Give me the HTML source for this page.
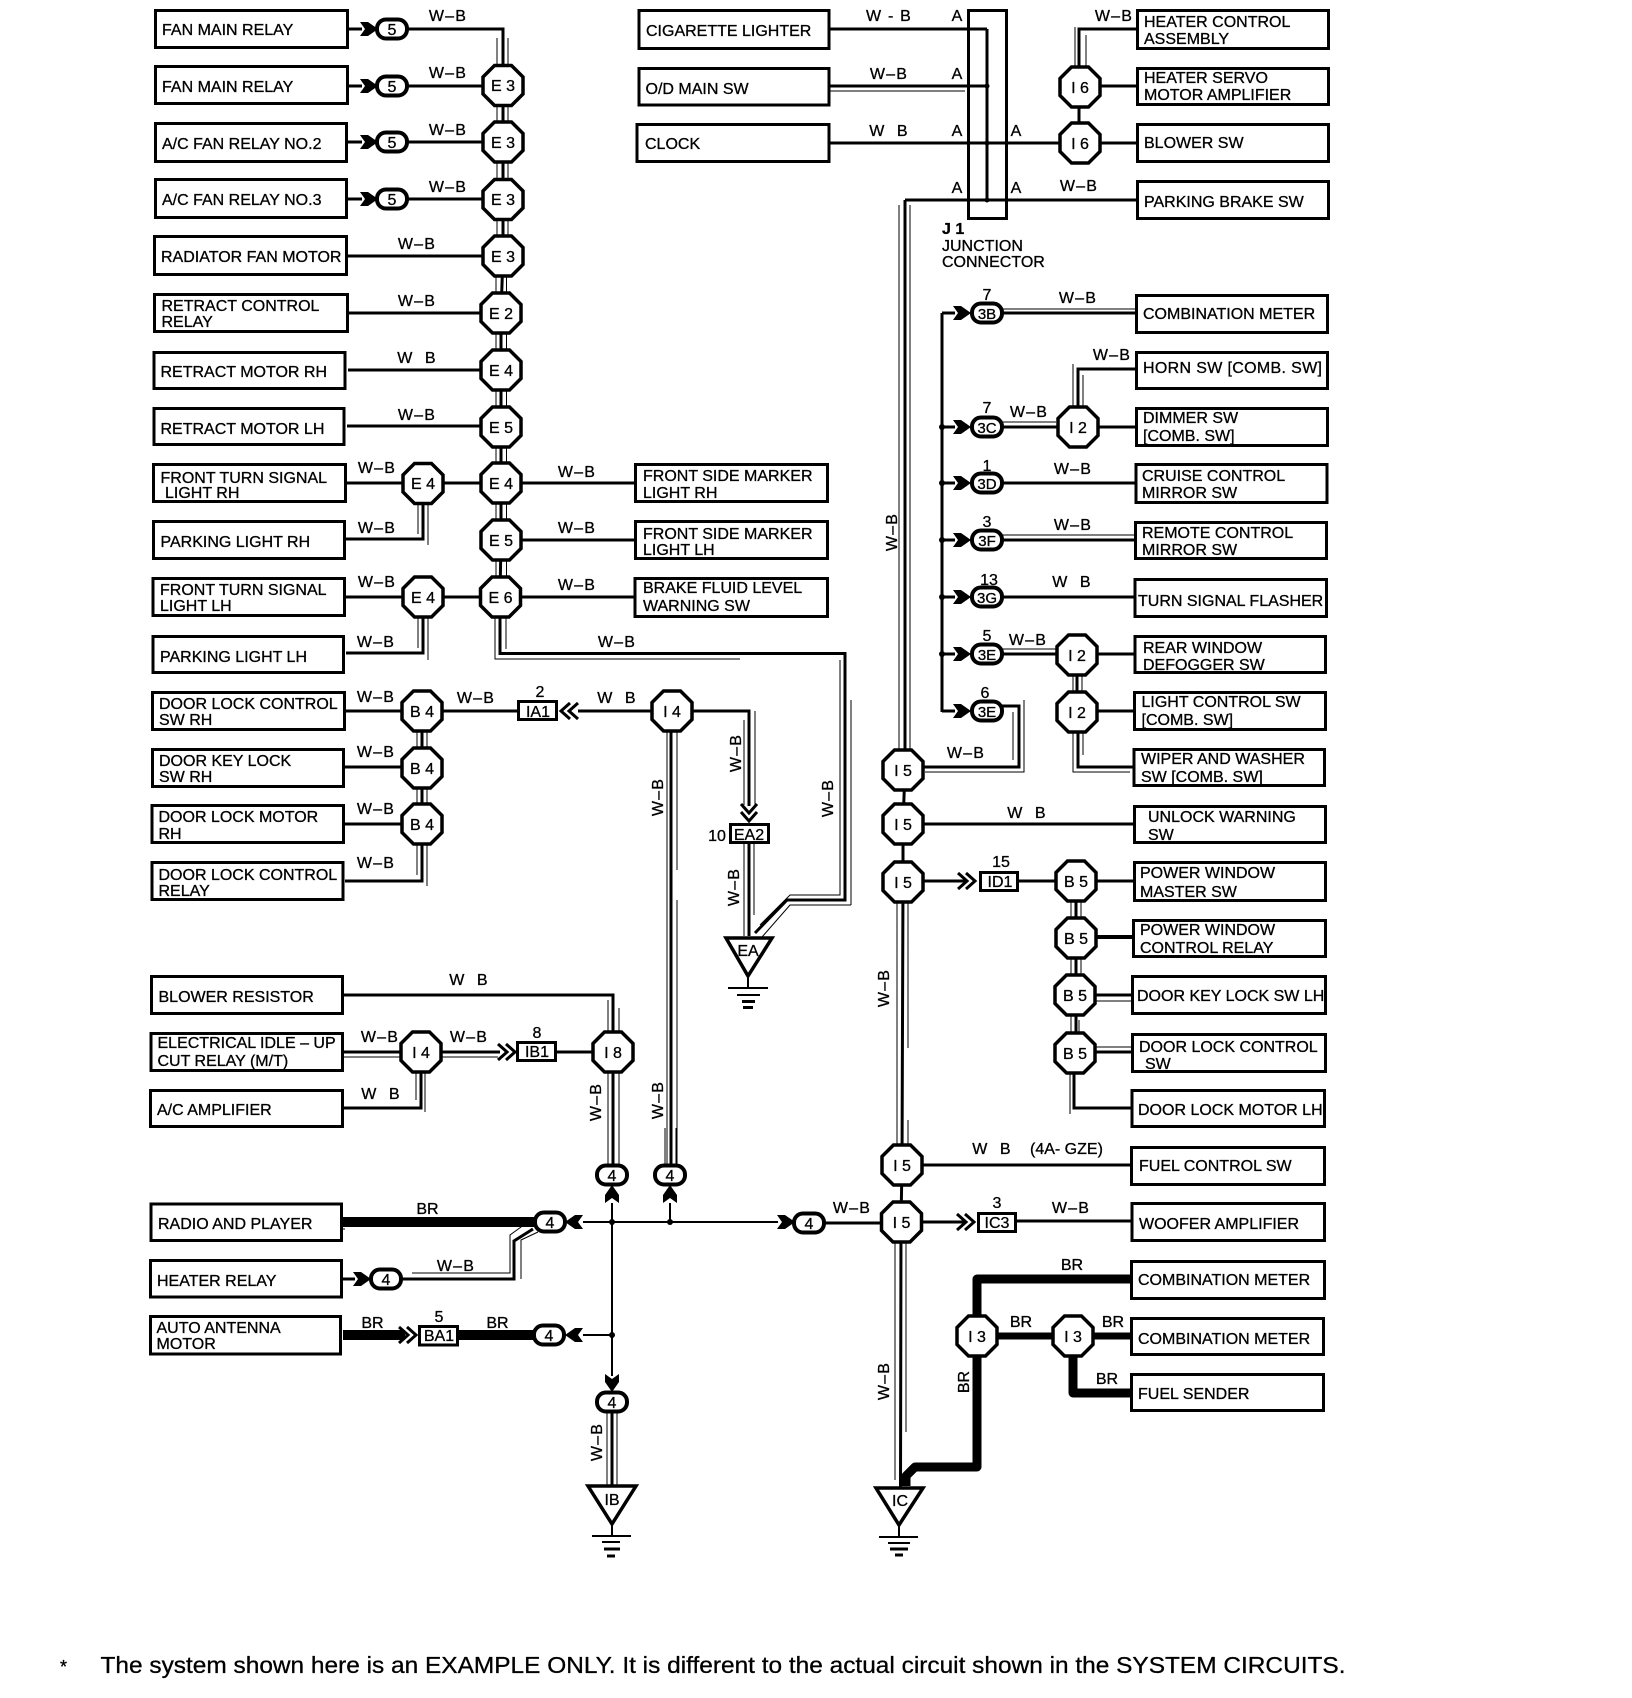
<!DOCTYPE html>
<html><head><meta charset="utf-8"><title>Wiring diagram</title>
<style>
html,body{margin:0;padding:0;background:#fff}
svg{display:block}
text{font-family:"Liberation Sans",sans-serif;font-size:16px;fill:#000;stroke:#000;stroke-width:.3}
.c{text-anchor:middle}
.l{text-anchor:middle;letter-spacing:1.2px}
.s{font-size:15px}
.box rect{fill:#fff;stroke:#000;stroke-width:3}
.w{fill:none;stroke:#000;stroke-width:3}
.n{fill:none;stroke:#000;stroke-width:2}
.t{fill:none;stroke:#000;stroke-width:1}
.h{fill:none;stroke:#000;stroke-width:9;stroke-linejoin:round}
</style></head><body>
<svg width="1632" height="1698" viewBox="0 0 1632 1698" xmlns="http://www.w3.org/2000/svg">
<defs>
<polygon id="o" points="-8.5,-20 8.5,-20 20,-8.5 20,8.5 8.5,20 -8.5,20 -20,8.5 -20,-8.5" fill="#fff" stroke="#000" stroke-width="3.5"/>
<rect id="p" x="-15" y="-9.5" width="30" height="19" rx="9" fill="#fff" stroke="#000" stroke-width="4"/>
<path id="a" d="M0-7H8L18 0 8 7H0L5 0Z" fill="#000"/>
<g id="v" fill="none" stroke="#000" stroke-width="3"><path d="M0-8 9 0 0 8"/><path d="M8-8 17 0 8 8"/></g>
</defs>

<!-- wires -->
<g class="w">
<path d="M348 29H362M348 86H362M348 142H362M348 199H362"/>
<path d="M405 29H503V85L503 256 501 313V483L501 540 500 597V653.500H845V900H787L755 933"/>
<path d="M405 86H482M405 142H482M405 199H482M348 256H482M348 313H481M348 370H481M347 426H481M347 483H403M443 483H521M521 483H634M346 539H423V503M521 540H634M346 597H403M443 597H634M346 653H423V617"/>
<path d="M346 711H402M345 767H402M345 824H402M345 881H422V690M443 711H520"/>
<path d="M578 711H652M692 711H749V806M749 844V936M671 732V1165"/>
<path d="M344 995H613V1165M344 1052H400M441 1052H500M557 1052H593M344 1108H421V1072"/>
<path d="M830 29H987M830 86H987M830 143H1060M987 29V200M1100 86H1136M1100 143H1136M1136 29H1079V143M905 200H1136M905 200V770L903 824V882L902 1165 901 1222 900.500 1487"/>
<path d="M1002 313H1135M942 313V712M942 313H955M942 427H955M942 483H955M942 540H955M942 597H955M942 654H955M942 711H955"/>
<path d="M1135 369H1078V407M1002 427H1057M1099 427H1135M1002 483H1135M1002 540H1135M1002 597H1134M1002 654H1056M1098 654H1134M1097 711H1133M1077 675V712M1078 732V767H1133M1002 706H1019V767H924"/>
<path d="M923 824H1133M923 881H965M1019 881H1056M1097 881H1133M1076 881V1053M1096 995H1131M1096 1052H1131M1074 1074V1108H1131M923 1165H1130M923 1222H965M1017 1221H1131M825 1223H880"/>
<path d="M343 1279H355M402 1279H514V1241L533 1229"/>
</g>
<path d="M1097 937H1132" class="w" style="stroke-width:4"/>
<g class="n">
<path d="M583 1222H778M583 1335H612M612 1203V1376M670 1203V1222"/>
</g>
<g class="t">
<path d="M497 38V256M508 38V275M496 275V596M506.500 275V596M495 617V659H740M506 617V649M840 660V895H790L760 925M851 700V905M851 905H790L762 937"/>
<path d="M418 503V534M428 503V545M418 617V648M428 617V660M417 731V875M427 731V886"/>
<path d="M744 720V805M755 711V805M744 844V936M754 844V915M667 732V1165M677 732V870M677 900V1165"/>
<path d="M608 1000V1165M619 1008V1165M608 1073V1165M425 1073V1112M416 1073V1100M344 1057H400M441 1057H498"/>
<path d="M830 91H965M1075 27V66M1086 35V66M899 205V750M910 205V750M897 890V1145M908 890V1048M908 1120V1145M895 1243V1480M906 1243V1432"/>
<path d="M1002 309H1135M1073 364V406M1083 375V406M1002 422H1056M1002 535H1135M1073 675V712M1082 675V712M1073 732V772H1130M1083 732V755M1013 712V760M1024 700V772H925M1002 649H1056"/>
<path d="M1071 900V1034M1081 900V975M1070 1073V1114M1096 1001H1131M1096 1047H1131M1079 1020V1033"/>
<path d="M343 1229H345M412 1273H510V1235L528 1222M521 1279V1240L538 1232"/>
<path d="M607 1413V1485M617 1413V1485M665 1128V1165M676 1128V1165"/>
</g>
<path d="M343 1222H536" fill="none" stroke="#000" stroke-width="10"/>
<path d="M612 1413V1485" class="w"/>
<g class="h">
<path d="M343 1335H405M459 1335H535" style="stroke-width:10"/>
<path d="M1130 1279H977V1315"/>
<path d="M998 1336H1053M1094 1336H1130" style="stroke-width:7"/>
<path d="M1073 1355V1393H1130"/>
<path d="M977 1355V1467H915L906 1476V1486"/>
</g>

<!-- arrows -->
<use href="#a" transform="translate(360,29)"/><use href="#a" transform="translate(360,86)"/><use href="#a" transform="translate(360,142)"/><use href="#a" transform="translate(360,199)"/>
<use href="#a" transform="translate(953,313)"/><use href="#a" transform="translate(953,427)"/><use href="#a" transform="translate(953,483)"/><use href="#a" transform="translate(953,540)"/><use href="#a" transform="translate(953,597)"/><use href="#a" transform="translate(953,654)"/><use href="#a" transform="translate(953,711)"/>
<use href="#a" transform="translate(353,1279)"/><use href="#a" transform="translate(777,1222)"/>
<use href="#a" transform="translate(583,1222) scale(-1,1)"/><use href="#a" transform="translate(583,1335) scale(-1,1)"/>
<use href="#a" transform="translate(612,1203) rotate(-90)"/><use href="#a" transform="translate(670,1203) rotate(-90)"/>
<use href="#a" transform="translate(612,1374) rotate(90)"/>
<use href="#v" transform="translate(498,1052)"/><use href="#v" transform="translate(958,881)"/><use href="#v" transform="translate(957,1222)"/><use href="#v" transform="translate(399,1335)"/>
<use href="#v" transform="translate(578,711) scale(-1,1)"/><use href="#v" transform="translate(749,804) rotate(90)"/>

<!-- dots -->
<g fill="#000">
<circle cx="987" cy="86" r="2.500"/><circle cx="987" cy="143" r="2.500"/><circle cx="987" cy="200" r="2.500"/>
<circle cx="942" cy="427" r="3"/><circle cx="942" cy="483" r="3"/><circle cx="942" cy="540" r="3"/><circle cx="942" cy="597" r="3"/><circle cx="942" cy="654" r="3"/>
<circle cx="612" cy="1222" r="3"/><circle cx="670" cy="1222" r="3"/><circle cx="612" cy="1335" r="3"/>
</g>

<!-- boxes -->
<g class="box">
<rect x="155.500" y="10.500" width="192" height="37"/>
<rect x="155.500" y="66.500" width="192" height="37"/>
<rect x="155.500" y="123.500" width="191" height="38"/>
<rect x="155.500" y="179.500" width="191" height="38"/>
<rect x="154.500" y="236.500" width="192" height="38"/>
<rect x="154.500" y="294.500" width="193" height="37"/>
<rect x="154" y="352.500" width="191" height="36"/>
<rect x="154" y="408.500" width="190" height="36"/>
<rect x="153.500" y="464.500" width="192" height="37"/>
<rect x="153.500" y="521.500" width="191" height="37"/>
<rect x="153" y="578.500" width="191.500" height="37"/>
<rect x="153" y="636.500" width="190.500" height="36"/>
<rect x="152.500" y="692.500" width="192" height="37"/>
<rect x="152.500" y="749.500" width="191" height="37"/>
<rect x="152" y="805.500" width="191.500" height="37"/>
<rect x="152" y="862.500" width="191" height="37"/>
<rect x="151.500" y="976.500" width="191" height="37"/>
<rect x="151" y="1033.500" width="191.500" height="37"/>
<rect x="150.500" y="1090.500" width="192" height="36"/>
<rect x="151" y="1204" width="190.500" height="36.500"/>
<rect x="150.500" y="1260.500" width="191" height="36.500"/>
<rect x="150.500" y="1316.500" width="190" height="37.500"/>
<rect x="639" y="10.500" width="190" height="38"/>
<rect x="639" y="68.500" width="190" height="36.500"/>
<rect x="637" y="124.500" width="192" height="37"/>
<rect x="635.500" y="464.500" width="192" height="37"/>
<rect x="635.500" y="521.500" width="192" height="37"/>
<rect x="635" y="578.500" width="192.500" height="38"/>
<rect x="1137.500" y="10.500" width="191" height="38"/>
<rect x="1137.500" y="68.500" width="191" height="36"/>
<rect x="1137.500" y="124.500" width="191" height="37"/>
<rect x="1137.500" y="181.500" width="191" height="37"/>
<rect x="1136.500" y="295.500" width="191" height="37"/>
<rect x="1136.500" y="352.500" width="191" height="36"/>
<rect x="1136.500" y="408.500" width="191" height="37"/>
<rect x="1136" y="464.500" width="191" height="38"/>
<rect x="1135.500" y="522.500" width="191" height="36"/>
<rect x="1135" y="579.500" width="191.500" height="37"/>
<rect x="1135" y="636.500" width="190.500" height="36"/>
<rect x="1134.500" y="692.500" width="191" height="37"/>
<rect x="1134" y="749.500" width="190.500" height="36"/>
<rect x="1134.500" y="806.500" width="191" height="36"/>
<rect x="1134.500" y="862.500" width="191" height="38"/>
<rect x="1133.500" y="920.500" width="192" height="36"/>
<rect x="1132.500" y="976.500" width="193" height="37"/>
<rect x="1132.500" y="1034.500" width="193" height="37"/>
<rect x="1132" y="1090.500" width="192.500" height="36"/>
<rect x="1131.500" y="1147.500" width="193" height="37"/>
<rect x="1132" y="1203.500" width="192.500" height="37"/>
<rect x="1131.500" y="1261.500" width="193" height="37"/>
<rect x="1131.500" y="1318.500" width="192" height="36"/>
<rect x="1131.500" y="1374.500" width="192" height="36"/>
<rect x="518.500" y="701.500" width="38" height="18"/>
<rect x="730.500" y="824.500" width="38" height="18"/>
<rect x="517.500" y="1042.500" width="38" height="18"/>
<rect x="419.500" y="1326.500" width="38" height="18.500"/>
<rect x="980.500" y="872.500" width="37" height="18"/>
<rect x="978.500" y="1213.500" width="37" height="18"/>
</g>
<rect x="968.500" y="10.500" width="38" height="208" fill="none" stroke="#000" stroke-width="3"/>

<!-- octagons -->
<use href="#o" x="503" y="85.500"/><use href="#o" x="503" y="142"/><use href="#o" x="503" y="199.500"/><use href="#o" x="503" y="256"/>
<use href="#o" x="501" y="313"/><use href="#o" x="501" y="370"/><use href="#o" x="501" y="427"/><use href="#o" x="501" y="483"/><use href="#o" x="501" y="540"/><use href="#o" x="500.500" y="597"/>
<use href="#o" x="423" y="483.500"/><use href="#o" x="423" y="597"/>
<use href="#o" x="422" y="711"/><use href="#o" x="422" y="768"/><use href="#o" x="422" y="824"/>
<use href="#o" x="672" y="711"/><use href="#o" x="421" y="1052"/><use href="#o" x="613" y="1052"/>
<use href="#o" x="1080" y="87"/><use href="#o" x="1080" y="143"/>
<use href="#o" x="1078" y="427"/><use href="#o" x="1077" y="655"/><use href="#o" x="1077" y="712"/>
<use href="#o" x="903" y="770"/><use href="#o" x="903" y="824"/><use href="#o" x="903" y="882"/><use href="#o" x="902" y="1165"/><use href="#o" x="901.500" y="1222"/>
<use href="#o" x="1076" y="881"/><use href="#o" x="1076" y="938"/><use href="#o" x="1075" y="995"/><use href="#o" x="1075" y="1053"/>
<use href="#o" x="977" y="1336"/><use href="#o" x="1073" y="1336"/>

<!-- pills -->
<use href="#p" x="392" y="29"/><use href="#p" x="392" y="86"/><use href="#p" x="392" y="142"/><use href="#p" x="392" y="199"/>
<use href="#p" x="987" y="313"/><use href="#p" x="987" y="427"/><use href="#p" x="987" y="483"/><use href="#p" x="987" y="540"/><use href="#p" x="987" y="597"/><use href="#p" x="987" y="654"/><use href="#p" x="987" y="711"/>
<use href="#p" x="612" y="1175"/><use href="#p" x="670" y="1175"/><use href="#p" x="550" y="1222"/><use href="#p" x="809" y="1223"/><use href="#p" x="386" y="1279"/><use href="#p" x="549" y="1335"/><use href="#p" x="612" y="1402"/>

<!-- triangles + ground -->
<g fill="#fff" stroke="#000" stroke-width="3.500" stroke-linejoin="miter">
<polygon points="726,938 772,938 748,976"/>
<polygon points="588,1486 636,1486 612,1524"/>
<polygon points="876,1488 923,1488 899,1525"/>
</g>
<g class="n">
<path d="M748 978V988M728 988H768M612 1526V1536M592 1536H631M899 1526V1537M879 1537H918"/>
<path d="M737 995H760M602 1542H620M888 1543H910"/>
</g>
<g class="w">
<path d="M742 1001.500H755M743 1007.500H753M604 1549H620M607 1556H615M890 1549H908M895 1555H903"/>
</g>

<!-- box labels -->
<text x="162" y="35">FAN MAIN RELAY</text>
<text x="162" y="92">FAN MAIN RELAY</text>
<text x="162" y="149">A/C FAN RELAY NO.2</text>
<text x="162" y="205">A/C FAN RELAY NO.3</text>
<text x="161" y="262">RADIATOR FAN MOTOR</text>
<text x="161.500" y="311">RETRACT CONTROL</text><text x="161.500" y="327">RELAY</text>
<text x="160.500" y="377">RETRACT MOTOR RH</text>
<text x="160.500" y="434">RETRACT MOTOR LH</text>
<text x="160.500" y="483">FRONT TURN SIGNAL</text><text x="165" y="498">LIGHT RH</text>
<text x="160.500" y="547">PARKING LIGHT RH</text>
<text x="160" y="595">FRONT TURN SIGNAL</text><text x="160" y="611">LIGHT LH</text>
<text x="160" y="662">PARKING LIGHT LH</text>
<text x="159" y="709">DOOR LOCK CONTROL</text><text x="159" y="725">SW RH</text>
<text x="159" y="766">DOOR KEY LOCK</text><text x="159" y="782">SW RH</text>
<text x="158.500" y="822">DOOR LOCK MOTOR</text><text x="158.500" y="839">RH</text>
<text x="158.500" y="880">DOOR LOCK CONTROL</text><text x="158.500" y="896">RELAY</text>
<text x="158.500" y="1002">BLOWER RESISTOR</text>
<text x="157.500" y="1048">ELECTRICAL IDLE – UP</text><text x="157.500" y="1066">CUT RELAY (M/T)</text>
<text x="157" y="1115">A/C AMPLIFIER</text>
<text x="158" y="1229">RADIO AND PLAYER</text>
<text x="157" y="1286">HEATER RELAY</text>
<text x="156.500" y="1333">AUTO ANTENNA</text><text x="156.500" y="1349">MOTOR</text>

<text x="646" y="36">CIGARETTE LIGHTER</text>
<text x="645.500" y="94">O/D MAIN SW</text>
<text x="645" y="149">CLOCK</text>
<text x="643" y="481">FRONT SIDE MARKER</text><text x="643" y="498">LIGHT RH</text>
<text x="643" y="539">FRONT SIDE MARKER</text><text x="643" y="555">LIGHT LH</text>
<text x="643" y="593">BRAKE FLUID LEVEL</text><text x="643" y="611">WARNING SW</text>

<text x="1144" y="27">HEATER CONTROL</text><text x="1144" y="44">ASSEMBLY</text>
<text x="1144" y="83">HEATER SERVO</text><text x="1144" y="100">MOTOR AMPLIFIER</text>
<text x="1144" y="148">BLOWER SW</text>
<text x="1144" y="207">PARKING BRAKE SW</text>
<text x="1143" y="319">COMBINATION METER</text>
<text x="1143" y="373" textLength="179">HORN SW [COMB. SW]</text>
<text x="1143" y="423">DIMMER SW</text><text x="1143" y="441">[COMB. SW]</text>
<text x="1142" y="481">CRUISE CONTROL</text><text x="1142" y="498">MIRROR SW</text>
<text x="1142" y="538">REMOTE CONTROL</text><text x="1142" y="555">MIRROR SW</text>
<text x="1138" y="606">TURN SIGNAL FLASHER</text>
<text x="1143" y="653">REAR WINDOW</text><text x="1143" y="670">DEFOGGER SW</text>
<text x="1141.500" y="707">LIGHT CONTROL SW</text><text x="1141.500" y="725">[COMB. SW]</text>
<text x="1141" y="764">WIPER AND WASHER</text><text x="1141" y="782">SW [COMB. SW]</text>
<text x="1148" y="822">UNLOCK WARNING</text><text x="1148" y="840">SW</text>
<text x="1140" y="878">POWER WINDOW</text><text x="1140" y="897">MASTER SW</text>
<text x="1140" y="935">POWER WINDOW</text><text x="1140" y="953">CONTROL RELAY</text>
<text x="1137" y="1001">DOOR KEY LOCK SW LH</text>
<text x="1139" y="1052">DOOR LOCK CONTROL</text><text x="1145" y="1069">SW</text>
<text x="1138" y="1115">DOOR LOCK MOTOR LH</text>
<text x="1139" y="1171">FUEL CONTROL SW</text>
<text x="1139" y="1229">WOOFER AMPLIFIER</text>
<text x="1138" y="1285">COMBINATION METER</text>
<text x="1138" y="1344">COMBINATION METER</text>
<text x="1138" y="1399">FUEL SENDER</text>

<!-- octagon labels -->
<g class="c">
<text class="c" x="503" y="91">E 3</text><text class="c" x="503" y="148">E 3</text><text class="c" x="503" y="205">E 3</text><text class="c" x="503" y="262">E 3</text>
<text class="c" x="501" y="319">E 2</text><text class="c" x="501" y="376">E 4</text><text class="c" x="501" y="433">E 5</text><text class="c" x="501" y="489">E 4</text><text class="c" x="501" y="546">E 5</text><text class="c" x="500.500" y="603">E 6</text>
<text class="c" x="423" y="489">E 4</text><text class="c" x="423" y="603">E 4</text>
<text class="c" x="422" y="717">B 4</text><text class="c" x="422" y="774">B 4</text><text class="c" x="422" y="830">B 4</text>
<text class="c" x="672" y="717">I 4</text><text class="c" x="421" y="1058">I 4</text><text class="c" x="613" y="1058">I 8</text>
<text class="c" x="1080" y="93">I 6</text><text class="c" x="1080" y="149">I 6</text>
<text class="c" x="1078" y="433">I 2</text><text class="c" x="1077" y="661">I 2</text><text class="c" x="1077" y="718">I 2</text>
<text class="c" x="903" y="776">I 5</text><text class="c" x="903" y="830">I 5</text><text class="c" x="903" y="888">I 5</text><text class="c" x="902" y="1171">I 5</text><text class="c" x="901.500" y="1228">I 5</text>
<text class="c" x="1076" y="887">B 5</text><text class="c" x="1076" y="944">B 5</text><text class="c" x="1075" y="1001">B 5</text><text class="c" x="1075" y="1059">B 5</text>
<text class="c" x="977" y="1342">I 3</text><text class="c" x="1073" y="1342">I 3</text>
<!-- pill labels -->
<text class="c" x="392" y="35">5</text><text class="c" x="392" y="92">5</text><text class="c" x="392" y="148">5</text><text class="c" x="392" y="205">5</text>
<text class="c s" x="987" y="319">3B</text><text class="c s" x="987" y="433">3C</text><text class="c s" x="987" y="489">3D</text><text class="c s" x="987" y="546">3F</text><text class="c s" x="987" y="603">3G</text><text class="c s" x="987" y="660">3E</text><text class="c s" x="987" y="717">3E</text>
<text class="c" x="612" y="1181">4</text><text class="c" x="670" y="1181">4</text><text class="c" x="550" y="1228">4</text><text class="c" x="809" y="1229">4</text><text class="c" x="386" y="1285">4</text><text class="c" x="549" y="1341">4</text><text class="c" x="612" y="1408">4</text>
<!-- connector labels -->
<text class="c" x="538" y="717">IA1</text><text class="c" x="540" y="697">2</text>
<text class="c" x="749" y="840">EA2</text><text class="c" x="717" y="841">10</text>
<text class="c" x="537" y="1057">IB1</text><text class="c" x="537" y="1038">8</text>
<text class="c" x="439" y="1341">BA1</text><text class="c" x="439" y="1322">5</text>
<text class="c" x="1000" y="887">ID1</text><text class="c" x="1001" y="867">15</text>
<text class="c" x="997" y="1228">IC3</text><text class="c" x="997" y="1208">3</text>
<text class="c" x="748" y="956">EA</text><text class="c" x="612" y="1505">IB</text><text class="c" x="900" y="1506">IC</text>
<!-- pill numbers -->
<text class="c" x="987" y="300">7</text><text class="c" x="987" y="413">7</text><text class="c" x="987" y="471">1</text><text class="c" x="987" y="527">3</text><text class="c" x="989" y="585">13</text><text class="c" x="987" y="641">5</text><text class="c" x="985" y="698">6</text>
<!-- A labels -->
<text class="c" x="957" y="21">A</text><text class="c" x="957" y="79">A</text><text class="c" x="957" y="136">A</text><text class="c" x="957" y="193">A</text><text class="c" x="1016" y="136">A</text><text class="c" x="1016" y="193">A</text>
<!-- BR -->
<text class="c" x="427.500" y="1214">BR</text><text class="c" x="372.500" y="1328">BR</text><text class="c" x="497.500" y="1328">BR</text>
<text class="c" x="1072" y="1270">BR</text><text class="c" x="1021" y="1327">BR</text><text class="c" x="1113" y="1327">BR</text><text class="c" x="1107" y="1384">BR</text>
</g>
<text x="942" y="234" style="font-weight:bold">J 1</text>
<text x="942" y="251">JUNCTION</text>
<text x="942" y="267">CONNECTOR</text>

<!-- W-B labels -->
<text class="l" x="448" y="21">W–B</text><text class="l" x="448" y="78">W–B</text><text class="l" x="448" y="135">W–B</text><text class="l" x="448" y="192">W–B</text>
<text class="l" x="417" y="249">W–B</text><text class="l" x="417" y="306">W–B</text><text class="l" x="417" y="363">W&#160;&#160;B</text><text class="l" x="417" y="420">W–B</text>
<text class="l" x="377" y="473">W–B</text><text class="l" x="377" y="533">W–B</text><text class="l" x="377" y="587">W–B</text><text class="l" x="376" y="647">W–B</text>
<text class="l" x="376" y="702">W–B</text><text class="l" x="376" y="757">W–B</text><text class="l" x="376" y="814">W–B</text><text class="l" x="376" y="868">W–B</text>
<text class="l" x="476" y="703">W–B</text><text class="l" x="617" y="703">W&#160;&#160;B</text>
<text class="l" x="577" y="477">W–B</text><text class="l" x="577" y="533">W–B</text><text class="l" x="577" y="590">W–B</text><text class="l" x="617" y="647">W–B</text>
<text class="l" x="469" y="985">W&#160;&#160;B</text><text class="l" x="380" y="1042">W–B</text><text class="l" x="469" y="1042">W–B</text><text class="l" x="381" y="1099">W&#160;&#160;B</text>
<text class="l" x="456" y="1271">W–B</text><text class="l" x="852" y="1213">W–B</text>
<text class="l" x="889" y="21">W - B</text><text class="l" x="889" y="79">W–B</text><text class="l" x="889" y="136">W&#160;&#160;B</text>
<text class="l" x="1079" y="191">W–B</text><text class="l" x="1114" y="21">W–B</text>
<text class="l" x="1078" y="303">W–B</text><text class="l" x="1112" y="360">W–B</text><text class="l" x="1029" y="417">W–B</text><text class="l" x="1073" y="474">W–B</text><text class="l" x="1073" y="530">W–B</text><text class="l" x="1072" y="587">W&#160;&#160;B</text><text class="l" x="1028" y="645">W–B</text><text class="l" x="966" y="758">W–B</text>
<text class="l" x="1027" y="818">W&#160;&#160;B</text><text class="l" x="992" y="1154">W&#160;&#160;B</text><text x="1030" y="1154">(4A- GZE)</text>
<text class="l" x="1071" y="1213">W–B</text>

<!-- vertical labels -->
<text class="l" transform="translate(741,753) rotate(-90)">W–B</text>
<text class="l" transform="translate(739,887) rotate(-90)">W–B</text>
<text class="l" transform="translate(663,797) rotate(-90)">W–B</text>
<text class="l" transform="translate(833,798) rotate(-90)">W–B</text>
<text class="l" transform="translate(663,1100) rotate(-90)">W–B</text>
<text class="l" transform="translate(601,1102) rotate(-90)">W–B</text>
<text class="l" transform="translate(602,1442) rotate(-90)">W–B</text>
<text class="l" transform="translate(897,532) rotate(-90)">W–B</text>
<text class="l" transform="translate(889,988) rotate(-90)">W–B</text>
<text class="l" transform="translate(889,1381) rotate(-90)">W–B</text>
<text class="c" transform="translate(969,1382) rotate(-90)">BR</text>

<!-- footer -->
<text x="60" y="1673" style="font-size:18px">*</text>
<text x="100.500" y="1673" textLength="1245" lengthAdjust="spacingAndGlyphs" style="font-size:23px">The system shown here is an EXAMPLE ONLY. It is different to the actual circuit shown in the SYSTEM CIRCUITS.</text>
</svg>
</body></html>
